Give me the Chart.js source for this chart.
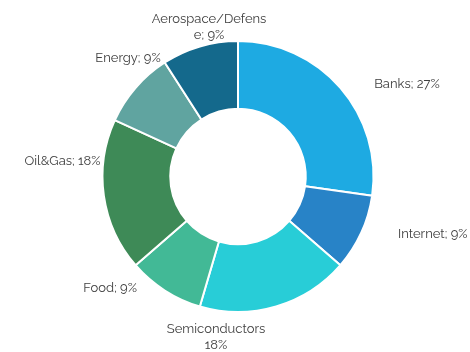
<!DOCTYPE html>
<html>
<head>
<meta charset="utf-8">
<script src="https://cdn.jsdelivr.net/npm/chart.js@4/dist/chart.umd.min.js"></script>
<style>
    html, body { margin: 0; padding: 0; background: #fff; }
</style>
</head>
<body>
<canvas id="chart" width="470" height="352"></canvas>
<script>
const sectors = ['Banks', 'Internet', 'Semiconductors', 'Food', 'Oil&Gas', 'Energy', 'Aerospace/Defense'];
const weights = [27, 9, 18, 9, 18, 9, 9];
const sliceColors = [
    'rgb(30, 170, 226)',
    'rgb(40, 131, 199)',
    'rgb(40, 205, 215)',
    'rgb(66, 185, 150)',
    'rgb(62, 138, 87)',
    'rgb(96, 164, 160)',
    'rgb(20, 105, 140)',
];

// label spots: degrees clockwise from 12 o'clock, distance as a multiple of the outer radius
const labelSpots = [
    [61.4, 1.42],
    [106.6, 1.5],
    [187.8, 1.195],
    [229, 1.25],
    [275, 1.3],
    [317, 1.19],
    [349, 1.12],
];

const LABEL_FONT = '13px Raleway, Lato, sans-serif';

// split a "name; value" label when it is too wide
function wrapLabel(ctx, text, maxW) {
    if (ctx.measureText(text).width <= maxW) return [text];
    const cut = text.indexOf('; ');
    const head = text.slice(0, cut);
    if (ctx.measureText(head).width <= maxW) return [head, text.slice(cut + 2)];
    let n = head.length;
    while (n > 1 && ctx.measureText(text.slice(0, n)).width > maxW) n--;
    return [text.slice(0, n), text.slice(n)];
}

const outsideLabels = {
    id: 'outsideLabels',
    afterDatasetsDraw(chart) {
        const ctx = chart.ctx;
        const meta = chart.getDatasetMeta(0);
        ctx.save();
        ctx.font = LABEL_FONT;
        ctx.fillStyle = '#404040';
        ctx.textAlign = 'center';
        ctx.textBaseline = 'middle';
        meta.data.forEach((arc, i) => {
            const lines = wrapLabel(ctx, sectors[i] + '; ' + weights[i] + '%', 119);
            const [deg, k] = labelSpots[i];
            const a = deg * Math.PI / 180;
            const r = arc.outerRadius * k;
            const cx = arc.x + Math.sin(a) * r;
            const cy = arc.y - Math.cos(a) * r;
            const lh = 16;
            lines.forEach((line, j) => {
                ctx.fillText(line, cx, cy + (j - (lines.length - 1) / 2) * lh);
            });
        });
        ctx.restore();
    }
};

const chart = new Chart(document.getElementById('chart'), {
    type: 'doughnut',
    data: {
        labels: sectors,
        datasets: [{
            data: weights,
            backgroundColor: sliceColors,
            borderColor: '#fff',
            borderWidth: 2,
        }]
    },
    options: {
        responsive: false,
        animation: false,
        cutout: '50%',
        layout: {
            padding: { left: 100, right: 94, top: 40, bottom: 39 }
        },
        plugins: {
            legend: { display: false },
            tooltip: { enabled: false }
        }
    },
    plugins: [outsideLabels]
});
</script>
</body>
</html>
